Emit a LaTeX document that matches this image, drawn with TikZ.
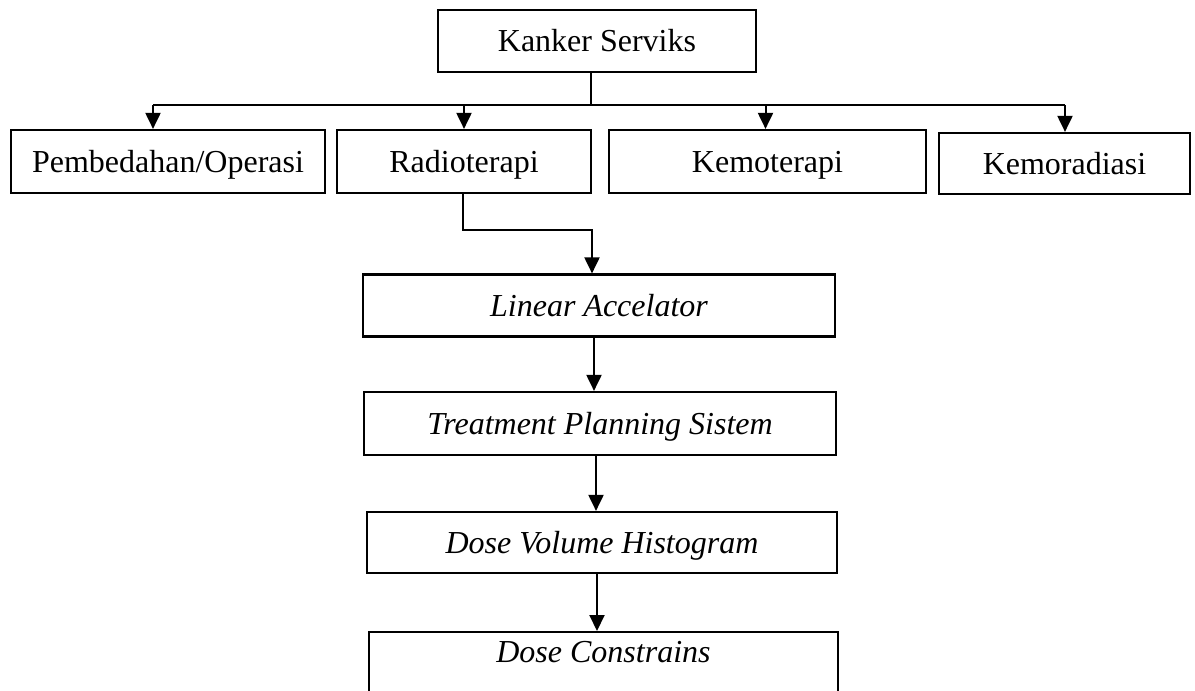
\documentclass[tikz,border=0pt]{standalone}
\usepackage{fontspec}
\setmainfont{Liberation Serif}
\usetikzlibrary{arrows.meta}

\begin{document}
\begin{tikzpicture}[x=1pt,y=-1pt,
        box/.style={draw=black, line width=2.2pt, inner sep=0pt, text height=21pt, text depth=0pt, font=\fontsize{32}{38}\selectfont},
        arr/.style={line width=2pt, -{Triangle[length=16pt,width=15pt]}},
        lin/.style={line width=2pt}]
        \useasboundingbox (0,0) rectangle (1195,691);
        \clip (0,0) rectangle (1195,691);

        \node[box, minimum width=318pt, minimum height=62pt] (kanker) at (597,41) {Kanker Serviks};

        \node[box, minimum width=314pt, minimum height=63pt] (pemb) at (168,161.5) {Pembedahan/Operasi};
        \node[box, minimum width=254pt, minimum height=63pt] (radio) at (464,161.5) {Radioterapi};
        \node[box, minimum width=317pt, minimum height=63pt] (kemo) at (767.5,161.5) {Kemoterapi};
        \node[box, minimum width=251pt, minimum height=61pt] (kemorad) at (1064.5,163.5) {Kemoradiasi};

        \node[box, minimum width=472pt, minimum height=62pt] (linac) at (599,305.5) {\itshape Linear Accelator};
        \node[box, minimum width=472pt, minimum height=63pt] (tps) at (600,423.5) {\itshape Treatment Planning Sistem};
        \node[box, minimum width=470pt, minimum height=61pt] (dvh) at (602,542.5) {\itshape Dose Volume Histogram};
        % box runs past the lower edge
        \node[box, minimum width=469pt, anchor=north, text height=30pt, text depth=40pt] (dc) at (603.5,631) {\itshape Dose Constrains};

        \coordinate (busL) at (153,105);
        \coordinate (busR) at (1065,105);
        \draw[lin] ([xshift=-6pt]kanker.south) -- ([xshift=-6pt]kanker.south |- busL);
        \draw[lin] (busL) -- (busR);
        \draw[arr] (busL) -- (busL |- pemb.north);
        \draw[arr] (busL -| radio.north) -- (radio.north);
        \draw[arr] ([xshift=-2pt]busL -| kemo.north) -- ([xshift=-2pt]kemo.north);
        \draw[arr] (busR) -- (busR |- kemorad.north);

        \draw[arr] ([xshift=-1pt]radio.south) -- ++(0,36) -| ([xshift=-7pt]linac.north);
        \draw[arr] ([xshift=-5pt]linac.south) -- ([xshift=-5pt]linac.south |- tps.north);
        \draw[arr] ([xshift=-4pt]tps.south) -- ([xshift=-4pt]tps.south |- dvh.north);
        \draw[arr] ([xshift=-5pt]dvh.south) -- ([xshift=-5pt]dvh.south |- dc.north);
\end{tikzpicture}
\end{document}
